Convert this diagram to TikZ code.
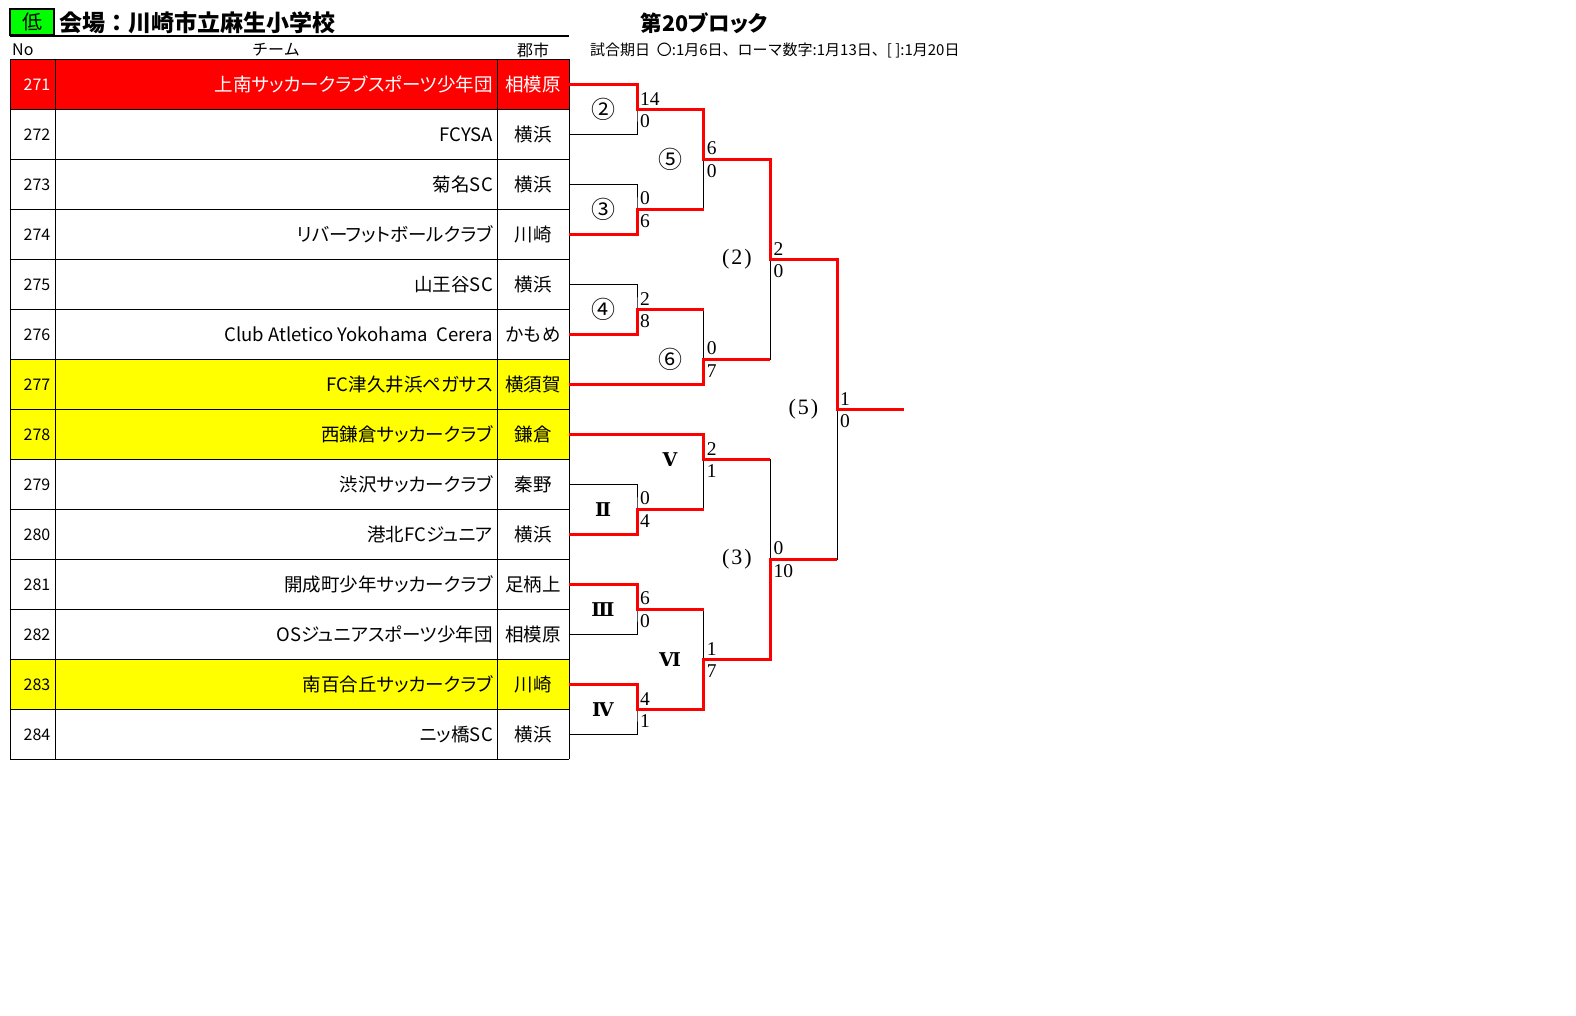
\documentclass[tikz,border=0pt]{standalone}
\usepackage{fontspec}
\setmainfont{Noto Sans CJK JP}[RawFeature={+palt}]
\newfontfamily\fwfont{Noto Sans CJK JP}
\newfontfamily\serfont{Liberation Serif}
\newfontfamily\romfont{DejaVu Serif}
\definecolor{xred}{HTML}{FF0000}
\definecolor{xyellow}{HTML}{FFFF00}
\definecolor{xgreen}{HTML}{00FF00}
\tikzset{
  bl/.style={draw=black, line width=1pt},
  rd/.style={draw=xred, line width=3pt, line join=miter},
  grid/.style={draw=black, line width=1pt},
  numtxt/.style={anchor=east, inner sep=0pt, font=\fwfont\fontsize{16}{18}\selectfont},
  teamtxt/.style={anchor=east, inner sep=0pt, font=\fontsize{18.5}{20}\selectfont},
  citytxt/.style={inner sep=0pt, font=\fwfont\fontsize{18.5}{20}\selectfont},
  headtxt/.style={inner sep=0pt, font=\fwfont\fontsize{16}{18}\selectfont},
  sctop/.style={anchor=south west, inner sep=0pt, xshift=3pt, yshift=4pt, font=\serfont\fontsize{19.5}{21}\selectfont},
  scbot/.style={anchor=north west, inner sep=0pt, xshift=3pt, yshift=-5pt, font=\serfont\fontsize{19.5}{21}\selectfont},
  circlab/.style={inner sep=0pt, font=\fwfont\fontsize{24}{26}\selectfont},
  romlab/.style={inner sep=0pt, font=\romfont\bfseries\fontsize{19}{21}\selectfont},
  parlab/.style={inner sep=0pt, font=\serfont\fontsize{22}{24}\selectfont},
}
\begin{document}
\begin{tikzpicture}[x=1pt,y=-1pt]
\useasboundingbox (0,0) rectangle (1576,1016);
\fill[white] (0,0) rectangle (1576,1016);

% ---------- header ----------
\node[draw=black, line width=2pt, fill=xgreen, minimum width=43.5pt, minimum height=26.5pt, inner sep=0pt,
      font=\fwfont\fontsize{20}{22}\selectfont] (low) at (32.2,21.8) {低};
\node[anchor=west, inner sep=0pt, font=\fwfont\bfseries\fontsize{23}{25}\selectfont] (venue) at (59,23) {会場：川崎市立麻生小学校};
\draw[black, line width=1.3pt] (10,36) -- (569.3,36);
\node[anchor=west, headtxt] (hno) at (12,50) {No};
\node[headtxt] (hteam) at (276,50) {チーム};
\node[headtxt] (hcity) at (533,50) {郡市};
\node[inner sep=0pt, font=\bfseries\fontsize{21.5}{23}\selectfont] (block) at (704,23) {第20ブロック};
\node[anchor=west, inner sep=0pt, font=\fwfont\fontsize{15}{17}\selectfont] (dates) at (590,50) {試合期日\ \ 〇:1月6日、ローマ数字:1月13日、[ ]:1月20日};

% ---------- table ----------
\fill[xred] (10,59.3) rectangle (569.3,109.3);
\fill[xyellow] (10,359.3) rectangle (569.3,459.3);
\fill[xyellow] (10,659.3) rectangle (569.3,709.3);
\foreach \k in {0,...,14} \draw[grid] (10,{59.3+50*\k}) -- (569.3,{59.3+50*\k});
\foreach \xx in {10,55.3,497.3,569.3} \draw[grid] (\xx,59.3) -- (\xx,759.3);

\foreach \k/\no/\team/\city/\col in {
  1/271/上南サッカークラブスポーツ少年団/相模原/white,
  2/272/FCYSA/横浜/black,
  3/273/菊名SC/横浜/black,
  4/274/リバーフットボールクラブ/川崎/black,
  5/275/山王谷SC/横浜/black,
  6/276/Club Atletico Yokohama~~Cerera/かもめ/black,
  7/277/FC津久井浜ペガサス/横須賀/black,
  8/278/西鎌倉サッカークラブ/鎌倉/black,
  9/279/渋沢サッカークラブ/秦野/black,
  10/280/港北FCジュニア/横浜/black,
  11/281/開成町少年サッカークラブ/足柄上/black,
  12/282/OSジュニアスポーツ少年団/相模原/black,
  13/283/南百合丘サッカークラブ/川崎/black,
  14/284/ニッ橋SC/横浜/black}{
  \coordinate (t\k) at (569.3,{59.3+25*(2*\k-1)});
  \node[numtxt, text=\col] (no\k) at (50.5,{59.3+25*(2*\k-1)}) {\no};
  \node[teamtxt, text=\col] (team\k) at (493,{59.3+25*(2*\k-1)}) {\team};
  \node[citytxt, text=\col] (city\k) at (533,{59.3+25*(2*\k-1)}) {\city};
}

% ---------- bracket junctions ----------
\def\xa{637}\def\xb{703.7}\def\xc{770.3}\def\xd{837}\def\xe{904}
\coordinate (j2) at (\xa,{59.3+25*2});
\coordinate (j3) at (\xa,{59.3+25*6});
\coordinate (j4) at (\xa,{59.3+25*10});
\coordinate (jII) at (\xa,{59.3+25*18});
\coordinate (jIII) at (\xa,{59.3+25*22});
\coordinate (jIV) at (\xa,{59.3+25*26});
\coordinate (j5) at (\xb,{59.3+25*4});
\coordinate (j6) at (\xb,{59.3+25*12});
\coordinate (jV) at (\xb,{59.3+25*16});
\coordinate (jVI) at (\xb,{59.3+25*24});
\coordinate (jp2) at (\xc,{59.3+25*8});
\coordinate (jp3) at (\xc,{59.3+25*20});
\coordinate (jp5) at (\xd,{59.3+25*14});
\coordinate (fin) at (\xe,{59.3+25*14});

% black bracket
\draw[bl] (t1) -| (j2) |- (t2);
\draw[bl] (t3) -| (j3) |- (t4);
\draw[bl] (t5) -| (j4) |- (t6);
\draw[bl] (t9) -| (jII) |- (t10);
\draw[bl] (t11) -| (jIII) |- (t12);
\draw[bl] (t13) -| (jIV) |- (t14);
\draw[bl] (j2) -| (j5) |- (j3);
\draw[bl] (j4) -| (j6) |- (t7);
\draw[bl] (t8) -| (jV) |- (jII);
\draw[bl] (jIII) -| (jVI) |- (jIV);
\draw[bl] (j5) -| (jp2) |- (j6);
\draw[bl] (jV) -| (jp3) |- (jVI);
\draw[bl] (jp2) -| (jp5) |- (jp3);
\draw[bl] (jp5) -- (fin);

% red winner paths
\draw[rd] (t1) -| (j2) -| (j5) -| (jp2) -| (jp5) -- (fin);
\draw[rd] (t4) -| (j3) -- (j3 -| j5);
\draw[rd] (t6) -| (j4) -- (j4 -| j6);
\draw[rd] (t7) -| (j6) -- (j6 -| jp2);
\draw[rd] (t8) -| (jV) -- (jV -| jp3);
\draw[rd] (t10) -| (jII) -- (jII -| jV);
\draw[rd] (t11) -| (jIII) -- (jIII -| jVI);
\draw[rd] (t13) -| (jIV) -| (jVI) -| (jp3) -- (jp3 -| jp5);

% scores
\foreach \j/\a/\b in {j2/14/0, j3/0/6, j4/2/8, jII/0/4, jIII/6/0, jIV/4/1,
                      j5/6/0, j6/0/7, jV/2/1, jVI/1/7, jp2/2/0, jp3/0/10, jp5/1/0}{
  \node[sctop] (sa\j) at (\j) {\a};
  \node[scbot] (sb\j) at (\j) {\b};
}

% match labels
\node[circlab] (l2) at (603,{59.3+25*2}) {②};
\node[circlab] (l3) at (603,{59.3+25*6}) {③};
\node[circlab] (l4) at (603,{59.3+25*10}) {④};
\node[circlab] (l5) at (670,{59.3+25*4}) {⑤};
\node[circlab] (l6) at (670,{59.3+25*12}) {⑥};
\node[parlab] (lp2) at (737,{59.3+25*8}) {(\hspace{2pt}2\hspace{2pt})};
\node[parlab] (lp5) at (803.5,{59.3+25*14}) {(\hspace{2pt}5\hspace{2pt})};
\node[parlab] (lp3) at (737,{59.3+25*20}) {(\hspace{2pt}3\hspace{2pt})};
\node[romlab] (lV) at (670,{59.3+25*16}) {Ⅴ};
\node[romlab] (lII) at (603,{59.3+25*18}) {Ⅱ};
\node[romlab] (lIII) at (603,{59.3+25*22}) {Ⅲ};
\node[romlab] (lVI) at (670,{59.3+25*24}) {Ⅵ};
\node[romlab] (lIV) at (603,{59.3+25*26}) {Ⅳ};
\end{tikzpicture}
\end{document}
